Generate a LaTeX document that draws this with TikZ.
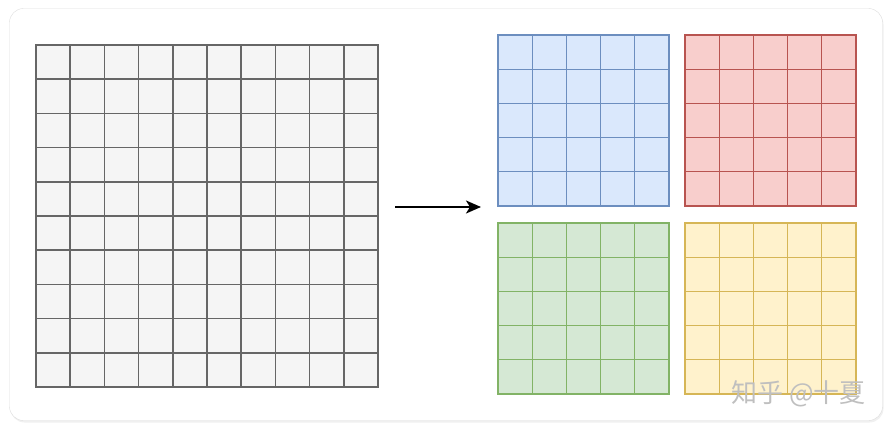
\documentclass[tikz,border=0pt]{standalone}
\usepackage{fontspec}
\newfontfamily\cjkfont{Noto Sans CJK SC}
\usetikzlibrary{arrows.meta,shadows}

\definecolor{cardline}{HTML}{DDDDDD}
\definecolor{grayfill}{HTML}{F5F5F5}
\definecolor{graydraw}{HTML}{666666}
\definecolor{bluefill}{HTML}{DAE8FC}
\definecolor{bluedraw}{HTML}{6C8EBF}
\definecolor{redfill}{HTML}{F8CECC}
\definecolor{reddraw}{HTML}{B85450}
\definecolor{greenfill}{HTML}{D5E8D4}
\definecolor{greendraw}{HTML}{82B366}
\definecolor{yellowfill}{HTML}{FFF2CC}
\definecolor{yellowdraw}{HTML}{D6B656}

\tikzset{
  block/.style={rectangle, inner sep=0pt, outer sep=0pt, anchor=north west},
  bigblock/.style={block, draw=graydraw, fill=grayfill, line width=1.5pt, minimum size=342pt},
  partblock/.style={block, draw=#1draw, fill=#1fill, line width=1.3pt, minimum size=171pt},
}

\begin{document}
\begin{tikzpicture}[x=1pt,y=-1pt]
     		\useasboundingbox (0,0) rectangle (894,431);
     		\draw[rounded corners=14pt, draw=cardline, fill=white,
     		  drop shadow={opacity=0.12, shadow xshift=1pt, shadow yshift=-2pt}] (9.5,8.5) rectangle (882.5,420.5);

     		% the whole matrix
     		\node[bigblock] (full) at (36,45) {};
     		\foreach \i in {1,...,9}{\draw[graydraw, line width=1.5pt] (36+\i*34.2,45) -- (36+\i*34.2,387);}
     		\foreach \i in {1,...,9}{\draw[graydraw, line width=1.5pt] (36,45+\i*34.2) -- (378,45+\i*34.2);}

     		% the four parts
     		\foreach \x/\y/\c in {498/35/blue,685/35/red,498/223/green,685/223/yellow}{
     		  \node[partblock=\c] (part-\c) at (\x,\y) {};
     		  \foreach \i in {1,...,4}{\draw[\c draw, line width=1.3pt] (\x+\i*34.2,\y) -- (\x+\i*34.2,\y+171);}
     		  \foreach \i in {1,...,4}{\draw[\c draw, line width=1.3pt] (\x,\y+\i*34.2) -- (\x+171,\y+\i*34.2);}
     		}

     		\coordinate (tail) at (395,207);
     		\coordinate (tip) at (481,207);
     		\draw[-{Stealth[length=15pt,width=13pt,inset=4pt]}, line width=1.9pt] (tail) -- (tip);

     		\node[anchor=base west, inner sep=0pt, text=gray!50, font=\cjkfont\fontsize{26}{26}\selectfont] (mark) at (731,402) {知乎 @十夏};
		\end{tikzpicture}
\end{document}
